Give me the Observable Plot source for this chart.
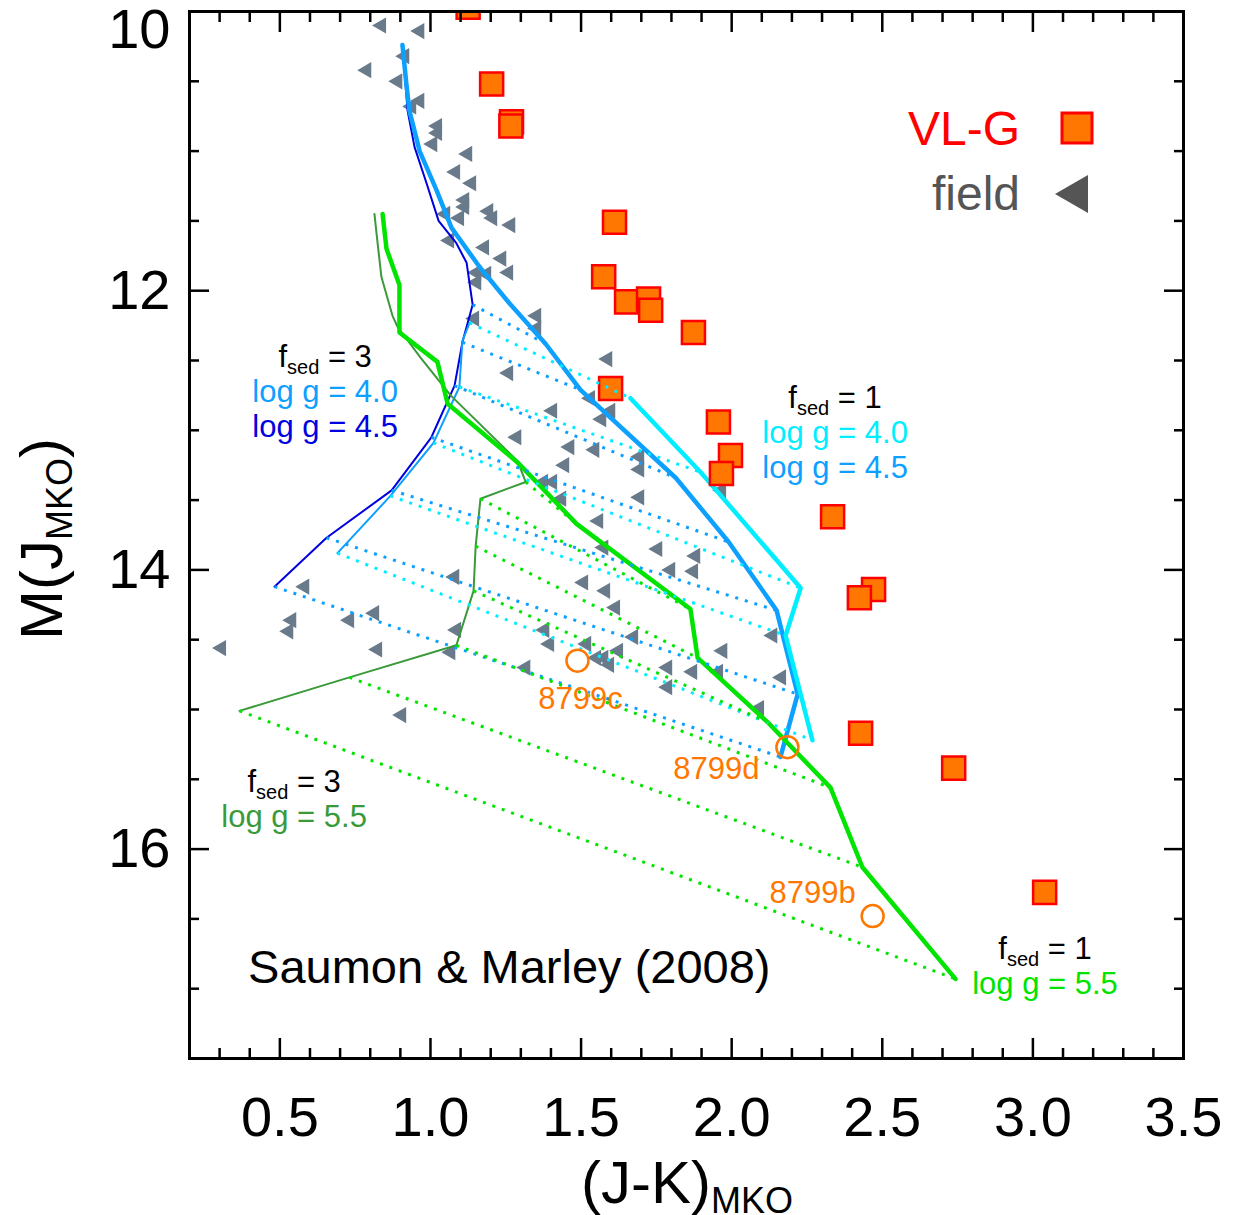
<!DOCTYPE html>
<html><head><meta charset="utf-8">
<script src="https://cdn.jsdelivr.net/npm/d3@7"></script>
<script src="https://cdn.jsdelivr.net/npm/@observablehq/plot@0.6"></script>
<style>html,body{margin:0;padding:0;background:#fff;}</style>
</head><body>
<div id="chart"></div>
<script>
// ---------------- DATA ----------------
// VL-G (low gravity) objects: (J-K)MKO, M(J)
const vlgX = [1.125,1.203,1.269,1.267,1.611,1.575,1.651,1.724,1.731,1.873,1.598,1.956,1.996,1.966,2.335,2.471,2.424,2.428,2.737,3.039];
const vlgY = [9.97,10.52,10.79,10.82,11.51,11.90,12.08,12.06,12.14,12.30,12.70,12.94,13.18,13.31,13.62,14.14,14.20,15.17,15.42,16.31];

// field objects
const fieldX = [0.837,0.964,0.914,0.788,0.891,0.964,0.937,1.023,1.023,1.007,1.123,1.083,1.136,1.113,1.113,1.050,1.096,1.193,1.206,1.266,
  1.063,1.179,1.236,1.153,1.186,1.259,1.153,1.352,1.352,1.146,1.588,1.259,1.405,1.531,1.598,1.568,1.286,1.462,1.545,1.694,
  1.445,1.694,1.375,1.405,1.435,1.694,1.966,1.558,1.575,1.754,1.880,1.797,1.873,1.080,1.508,0.582,1.581,1.614,0.814,0.731,
  0.539,0.529,0.306,1.086,1.379,1.395,1.518,0.824,1.067,1.551,1.575,1.594,1.674,1.624,1.970,2.136,1.316,1.787,1.870,2.165,
  1.956,1.787,0.904,2.092];
const fieldY = [10.10,10.14,10.32,10.42,10.50,10.64,10.68,10.82,10.87,10.95,11.02,11.15,11.23,11.35,11.40,11.45,11.48,11.43,11.48,11.53,
  11.64,11.69,11.77,11.87,11.88,11.87,11.94,12.18,12.27,12.20,12.49,12.59,12.86,12.77,12.86,12.92,13.05,13.12,13.14,13.19,
  13.25,13.28,13.37,13.37,13.49,13.48,13.43,13.65,13.84,13.85,13.90,14.00,14.01,14.05,14.09,14.12,14.15,14.27,14.31,14.36,
  14.36,14.44,14.56,14.43,14.43,14.53,14.53,14.57,14.59,14.63,14.63,14.68,14.48,14.58,14.58,14.47,14.70,14.70,14.73,14.77,
  14.73,14.84,15.04,14.99];

// HR 8799 planets
const hrNames = ["8799b","8799c","8799d"];
const hrX = [2.468,1.488,2.185];
const hrY = [16.48,14.65,15.27];

// Saumon & Marley (2008) model tracks
const f1g45X = [0.907,0.920,0.930,0.964,1.020,1.070,1.163,1.262,1.382,1.498,1.814,1.990,2.149,2.219,2.162];
const f1g45Y = [10.24,10.52,10.71,11.00,11.28,11.55,11.83,12.09,12.38,12.71,13.34,13.80,14.29,14.89,15.34];
const f3g45X = [0.907,0.924,0.947,0.987,1.027,1.086,1.120,1.140,1.106,1.080,1.003,0.871,0.655,0.482];
const f3g45Y = [10.24,10.71,10.97,11.23,11.50,11.66,11.80,12.10,12.37,12.68,13.05,13.43,13.77,14.12];
const f1g40X = [1.664,1.897,2.229,2.179,2.268];
const f1g40Y = [12.77,13.30,14.13,14.47,15.22];
const f3g40X = [1.130,1.106,1.096,1.010,0.867,0.691];
const f3g40Y = [12.23,12.36,12.69,13.09,13.47,13.88];
const f1g55X = [0.841,0.854,0.897,0.897,1.023,1.057,1.289,1.365,1.485,1.863,1.887,2.119,2.328,2.434,2.743];
const f1g55Y = [11.45,11.70,11.96,12.30,12.51,12.81,13.23,13.40,13.67,14.28,14.63,15.09,15.56,16.13,16.93];
const f3g55X = [0.814,0.824,0.837,0.874,0.891,0.967,1.067,1.289,1.316,1.166,1.150,1.143,1.086,0.731,0.366];
const f3g55Y = [11.45,11.65,11.90,12.18,12.26,12.48,12.75,13.22,13.37,13.49,13.83,14.15,14.54,14.77,15.01];

// equal-Teff connections: index in fsed=3 track -> index in fsed=1 track
const iso45_3 = [7,8,9,10,11,12,13], iso45_1 = [8,9,10,11,12,13,14];
const iso40_3 = [0,2,3,4,5],          iso40_1 = [0,1,2,3,4];
const iso55_3 = [8,9,10,11,12,13,14], iso55_1 = [8,9,10,11,12,13,14];

// ticks
const xMajor = [0.5,1.0,1.5,2.0,2.5,3.0,3.5];
const xMinor = d3.range(3,35).filter(i => i % 5 !== 0).map(i => i/10);
const yMajor = [10,12,14,16];
const yMinor = d3.range(21,35).filter(i => i % 4 !== 0).map(i => i/2);

// ---------------- BUILD ----------------
const FONT = "'Liberation Sans', Arial, Helvetica, sans-serif";
const C = {cyan:"#00eeff", dodger:"#0ea0ff", blue:"#0000e0", dgreen:"#3a9a3a", green:"#00e400",
           orange:"#ff7700", red:"#ff0000", field:"#697a8b"};

const track = (X, Y) => X.map((x, i) => ({x, y: Y[i]}));
const iso = (X3, Y3, X1, Y1, i3, i1) => i3.map((a, k) => ({x1: X3[a], y1: Y3[a], x2: X1[i1[k]], y2: Y1[i1[k]]}));
const vlg = track(vlgX, vlgY);
const field = track(fieldX, fieldY);
const hr = hrNames.map((name, i) => ({name, x: hrX[i], y: hrY[i]}));

const dotted = {x1:"x1", y1:"y1", x2:"x2", y2:"y2", strokeWidth:3, strokeDasharray:"3,7"};
const tk = {stroke:"black", strokeWidth:2.5, fill:"none", label:null};
const lab = {tickSize:0, fontSize:56, label:null, stroke:"none"};

const plot = Plot.plot({
  width: 1235, height: 1215,
  marginLeft: 189, marginRight: 52, marginTop: 11, marginBottom: 157,
  x: {domain: [0.2, 3.5]},
  y: {domain: [10, 17.5], reverse: true},
  style: {fontFamily: FONT, background: "white", color: "black", overflow: "visible"},
  marks: [
    // field
    Plot.dot(field, {x:"x", y:"y", symbol:"triangle", rotate:-90, r:6, fill:C.field, stroke:"none"}),
    // model tracks
    Plot.line(track(f3g45X, f3g45Y), {x:"x", y:"y", stroke:C.blue, strokeWidth:2}),
    Plot.line(track(f3g40X, f3g40Y), {x:"x", y:"y", stroke:C.dodger, strokeWidth:2}),
    Plot.line(track(f3g55X, f3g55Y), {x:"x", y:"y", stroke:C.dgreen, strokeWidth:2}),
    Plot.line(track(f1g45X, f1g45Y), {x:"x", y:"y", stroke:C.dodger, strokeWidth:4.5}),
    Plot.line(track(f1g40X, f1g40Y), {x:"x", y:"y", stroke:C.cyan, strokeWidth:4.5}),
    Plot.line(track(f1g55X, f1g55Y), {x:"x", y:"y", stroke:C.green, strokeWidth:4.5}),
    // VL-G
    Plot.dot(vlg, {x:"x", y:"y", symbol:"square", r:13, fill:C.orange, stroke:C.red, strokeWidth:2.5, clip:true}),
    // equal-Teff dotted links
    Plot.link(iso(f3g45X, f3g45Y, f1g45X, f1g45Y, iso45_3, iso45_1), {...dotted, stroke:C.dodger}),
    Plot.link(iso(f3g40X, f3g40Y, f1g40X, f1g40Y, iso40_3, iso40_1), {...dotted, stroke:C.cyan}),
    Plot.link(iso(f3g55X, f3g55Y, f1g55X, f1g55Y, iso55_3, iso55_1), {...dotted, stroke:C.green}),
    // HR 8799
    Plot.dot(hr, {x:"x", y:"y", r:11, fill:"none", stroke:C.orange, strokeWidth:2.5}),
    Plot.text(hr.filter(d => d.name === "8799c"), {x:"x", y:"y", text:"name", fill:C.orange, fontSize:31, dx:3, dy:38}),
    Plot.text(hr.filter(d => d.name === "8799d"), {x:"x", y:"y", text:"name", fill:C.orange, fontSize:31, dx:-71, dy:22}),
    Plot.text(hr.filter(d => d.name === "8799b"), {x:"x", y:"y", text:"name", fill:C.orange, fontSize:31, dx:-60, dy:-23}),
    // frame & inward ticks on all sides
    Plot.frame({stroke:"black", strokeWidth:3}),
    Plot.axisX(xMajor, {...tk, anchor:"bottom", tickSize:20, dy:-20}),
    Plot.axisX(xMinor, {...tk, anchor:"bottom", tickSize:10, dy:-10}),
    Plot.axisX(xMajor, {...tk, anchor:"top", tickSize:20, dy:20}),
    Plot.axisX(xMinor, {...tk, anchor:"top", tickSize:10, dy:10}),
    Plot.axisY(yMajor, {...tk, anchor:"left", tickSize:20, dx:20}),
    Plot.axisY(yMinor, {...tk, anchor:"left", tickSize:10, dx:10}),
    Plot.axisY(yMajor, {...tk, anchor:"right", tickSize:20, dx:-20}),
    Plot.axisY(yMinor, {...tk, anchor:"right", tickSize:10, dx:-10}),
    // tick labels
    Plot.axisX(xMajor, {...lab, anchor:"bottom", tickPadding:38, tickFormat:d3.format(".1f"), fill:"black"}),
    Plot.axisY(yMajor.filter(v => v !== 10), {...lab, anchor:"left", tickPadding:19, tickFormat:d3.format("d"), fill:"black"}),
    Plot.axisY([10], {...lab, anchor:"left", tickPadding:19, dy:19, tickFormat:d3.format("d"), fill:"black"})
  ]
});
document.getElementById("chart").appendChild(plot);

// ---------------- ANNOTATIONS ----------------
const svg = d3.select(plot);
const sx = v => plot.scale("x").apply(v), sy = v => plot.scale("y").apply(v);
const g = svg.append("g").attr("font-family", FONT);

function fsedLabel(x, y, val) {
  const t = g.append("text").attr("x", sx(x)).attr("y", sy(y)).attr("text-anchor", "middle")
    .attr("font-size", 31).attr("fill", "black");
  t.append("tspan").text("f");
  t.append("tspan").attr("font-size", 20).attr("dy", 7).text("sed");
  t.append("tspan").attr("dy", -7).text(" = " + val);
}
function loggLabel(x, y, lineNo, txt, color) {
  g.append("text").attr("x", sx(x)).attr("y", sy(y) + 35 * lineNo).attr("text-anchor", "middle")
    .attr("font-size", 31).attr("fill", color).text(txt);
}
fsedLabel(0.652, 12.548, "3");
loggLabel(0.652, 12.548, 1, "log g = 4.0", C.dodger);
loggLabel(0.652, 12.548, 2, "log g = 4.5", C.blue);
fsedLabel(2.345, 12.844, "1");
loggLabel(2.345, 12.844, 1, "log g = 4.0", C.cyan);
loggLabel(2.345, 12.844, 2, "log g = 4.5", C.dodger);
fsedLabel(0.549, 15.594, "3");
loggLabel(0.549, 15.594, 1, "log g = 5.5", C.dgreen);
fsedLabel(3.042, 16.791, "1");
loggLabel(3.042, 16.791, 1, "log g = 5.5", C.green);

g.append("text").attr("x", sx(0.396)).attr("y", sy(16.963)).attr("text-anchor", "start")
  .attr("font-size", 47).attr("fill", "black").text("Saumon & Marley (2008)");

// legend
g.append("text").attr("x", 1020).attr("y", 145).attr("text-anchor", "end").attr("font-size", 48)
  .attr("fill", C.red).text("VL-G");
g.append("rect").attr("x", 1062).attr("y", 113).attr("width", 30).attr("height", 30)
  .attr("fill", C.orange).attr("stroke", C.red).attr("stroke-width", 3);
g.append("text").attr("x", 1020).attr("y", 210).attr("text-anchor", "end").attr("font-size", 48)
  .attr("fill", "#555555").text("field");
g.append("path").attr("d", "M1055,194L1088,175L1088,213Z").attr("fill", "#555555");

// axis titles
const xt = g.append("text").attr("x", 687).attr("y", 1203).attr("text-anchor", "middle")
  .attr("font-size", 60).attr("fill", "black");
xt.append("tspan").text("(J-K)");
xt.append("tspan").attr("font-size", 36).attr("dy", 10).text("MKO");

const yt = g.append("text").attr("transform", "translate(62,539) rotate(-90)").attr("text-anchor", "middle")
  .attr("font-size", 60).attr("fill", "black");
yt.append("tspan").text("M(J");
yt.append("tspan").attr("font-size", 36).attr("dy", 10).text("MKO");
yt.append("tspan").attr("dy", -10).text(")");
</script>
</body></html>
